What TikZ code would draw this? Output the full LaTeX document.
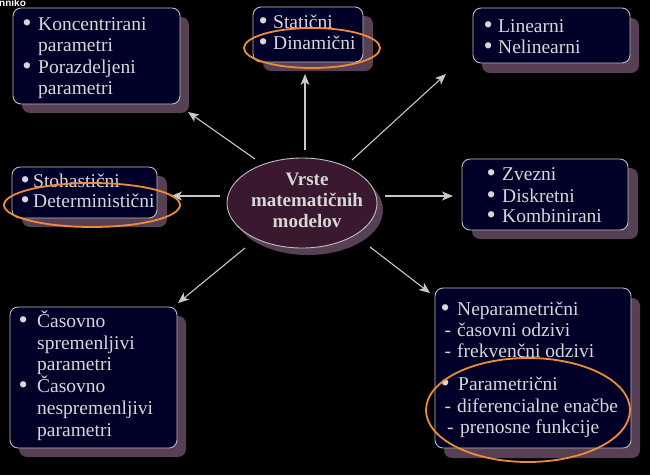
\documentclass[tikz,border=0pt]{standalone}
\usepackage{fontspec}
\setmainfont{Liberation Serif}
\newfontfamily\sansf{Liberation Sans}
\usetikzlibrary{arrows.meta,shapes.geometric}
\definecolor{boxfill}{RGB}{0,0,40}
\definecolor{shadowc}{RGB}{88,64,84}
\definecolor{ellfill}{RGB}{58,24,48}
\definecolor{edgec}{RGB}{190,190,190}
\definecolor{txt}{RGB}{215,215,215}
\definecolor{orng}{RGB}{240,140,55}
\definecolor{arrc}{RGB}{200,200,200}
\newcommand{\bulx}[1]{\makebox[#1][l]{\hspace{-1.2pt}\raisebox{-1pt}{\scalebox{1.35}{•}}}}
\begin{document}
\begin{tikzpicture}[x=1pt,y=-1pt,
 panel/.style={draw=edgec,line width=0.9pt,fill=boxfill,rounded corners=8pt,inner sep=0pt},
 shade/.style={fill=shadowc,rounded corners=8pt,inner sep=0pt},
 ln/.style={anchor=base west,inner sep=0pt,text=txt,font=\fontsize{19.5}{21.5}\selectfont},
 ttl/.style={anchor=base,inner sep=0pt,text=txt,font=\fontsize{19}{21}\selectfont\bfseries},
 arr/.style={draw=arrc,line width=1.1pt,-{Stealth[length=11pt,width=9pt,inset=3pt]}},
 ring/.style={draw=orng,line width=1.8pt,ellipse,inner sep=0pt}]
\useasboundingbox (0,0) rectangle (650,475);
\fill[black] (0,0) rectangle (650,475);
\node[anchor=base west,inner sep=0pt,text=white,font=\sansf\bfseries\fontsize{10}{11}\selectfont] (hdr) at (-1,6) {nniko};

% shadows
\node[shade,minimum width=167pt,minimum height=96pt] (s1) at (105.5,65) {};
\node[shade,minimum width=110pt,minimum height=55pt] (s2) at (318,43.5) {};
\node[shade,minimum width=157pt,minimum height=55pt] (s3) at (560.5,45.5) {};
\node[shade,minimum width=145pt,minimum height=51pt] (s4) at (94.5,201.5) {};
\node[shade,minimum width=166pt,minimum height=71pt] (s5) at (555,203.5) {};
\node[shade,minimum width=167pt,minimum height=141pt] (s6) at (102.5,386.5) {};
\node[shade,minimum width=196pt,minimum height=160pt] (s7) at (542,378) {};
\node[ellipse,fill=shadowc,minimum width=150pt,minimum height=90pt,inner sep=0pt] (sc) at (308,210) {};

% panels
\node[panel,minimum width=167pt,minimum height=96pt] (b1) at (96.5,56) {};
\node[panel,minimum width=110pt,minimum height=55pt] (b2) at (308,34.5) {};
\node[panel,minimum width=157pt,minimum height=55pt] (b3) at (551.5,35.5) {};
\node[panel,minimum width=145pt,minimum height=51pt] (b4) at (84.5,192.5) {};
\node[panel,minimum width=166pt,minimum height=71pt] (b5) at (545,194.5) {};
\node[panel,minimum width=167pt,minimum height=141pt] (b6) at (93.5,377.5) {};
\node[panel,minimum width=196pt,minimum height=160pt] (b7) at (533,368) {};
\node[ellipse,draw=edgec,line width=0.9pt,fill=ellfill,minimum width=150pt,minimum height=90pt,inner sep=0pt] (core) at (302,203) {};

% title
\node[ttl] (c1) at (307,185) {Vrste};
\node[ttl] (c2) at (307,206) {matematičnih};
\node[ttl] (c3) at (307,227) {modelov};

% box 1
\node[ln] (t11) at (23.5,30) {\bulx{14.5pt}Koncentrirani};
\node[ln] (t12) at (38,51) {parametri};
\node[ln] (t13) at (23.5,73) {\bulx{14.5pt}Porazdeljeni};
\node[ln] (t14) at (38,94) {parametri};
% box 2
\node[ln] (t21) at (259.6,28) {\bulx{13.4pt}Statični};
\node[ln] (t22) at (259.6,49) {\bulx{13.4pt}Dinamični};
% box 3
\node[ln] (t31) at (484.6,32) {\bulx{13.4pt}Linearni};
\node[ln] (t32) at (484.6,53) {\bulx{13.4pt}Nelinearni};
% box 4
\node[ln] (t41) at (21.6,187) {\bulx{11.4pt}Stohastični};
\node[ln] (t42) at (21.6,207) {\bulx{11.4pt}Deterministični};
% box 5
\node[ln] (t51) at (487.6,180) {\bulx{14.4pt}Zvezni};
\node[ln] (t52) at (487.6,202) {\bulx{14.4pt}Diskretni};
\node[ln] (t53) at (487.6,222) {\bulx{14.4pt}Kombinirani};
% box 6
\node[ln] (t61) at (19.6,327) {\bulx{17.4pt}Časovno};
\node[ln] (t62) at (37,349) {spremenljivi};
\node[ln] (t63) at (37,370) {parametri};
\node[ln] (t64) at (19.6,392) {\bulx{17.4pt}Časovno};
\node[ln] (t65) at (37,414) {nespremenljivi};
\node[ln] (t66) at (37,436) {parametri};
% box 7
\node[ln] (t71) at (441.6,315) {\bulx{15.4pt}Neparametrični};
\node[ln] (t72) at (444.5,336) {\makebox[12.5pt][l]{-}časovni odzivi};
\node[ln] (t73) at (444.5,357) {\makebox[12.5pt][l]{-}frekvenčni odzivi};
\node[ln] (t74) at (441.6,390) {\bulx{16.4pt}Parametrični};
\node[ln] (t75) at (444.5,412) {\makebox[12.5pt][l]{-}diferencialne enačbe};
\node[ln] (t76) at (447,433) {\makebox[13pt][l]{-}prenosne funkcije};

% arrows
\coordinate (p1) at (255,159); \coordinate (q1) at (188,112);
\coordinate (p2) at (305,150); \coordinate (q2) at (305,74);
\coordinate (p3) at (352,160); \coordinate (q3) at (446,74);
\coordinate (p4) at (220,196); \coordinate (q4) at (171,196);
\coordinate (p5) at (385,196); \coordinate (q5) at (453,196);
\coordinate (p6) at (245,248); \coordinate (q6) at (178,303);
\coordinate (p7) at (370,247); \coordinate (q7) at (430,293);
\foreach \i in {1,...,7} {\draw[arr] (p\i) -- (q\i);}

% orange rings
\node[ring,minimum width=136pt,minimum height=40pt] (r1) at (312,48) {};
\node[ring,minimum width=176pt,minimum height=44pt] (r2) at (92,205) {};
\node[ring,minimum width=204pt,minimum height=104pt] (r3) at (528,410) {};
\end{tikzpicture}
\end{document}
